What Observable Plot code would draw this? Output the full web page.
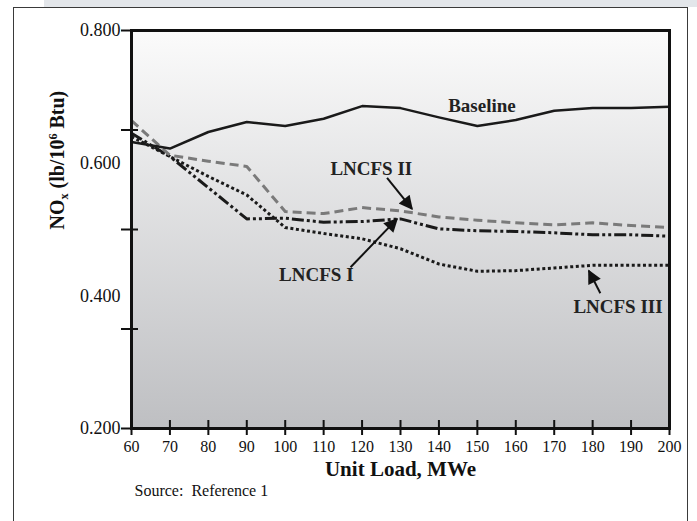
<!DOCTYPE html>
<html>
<head>
<meta charset="utf-8">
<script src="https://cdn.jsdelivr.net/npm/d3@7"></script>
<script src="https://cdn.jsdelivr.net/npm/@observablehq/plot@0.6"></script>
<style>
  html, body { margin: 0; padding: 0; background: #fff; }
  #wrap { position: relative; width: 697px; height: 521px; overflow: hidden; }
  #band { position: absolute; left: 44px; top: 0; width: 653px; height: 7px; background: #e3e6ea; }
  #box { position: absolute; left: 13px; top: 7px; width: 675px; height: 600px; border: 1px solid #3a3a3a; box-sizing: border-box; }
  #chart { position: absolute; left: 0; top: 0; }
</style>
</head>
<body>
<div id="wrap">
  <div id="band"></div>
  <div id="box"></div>
  <div id="chart"></div>
</div>
<script>
// Unit load, MWe
const loads = [60, 70, 80, 90, 100, 110, 120, 130, 140, 150, 160, 170, 180, 190, 200];
// NOx, lb/10^6 Btu
const baseline = [0.632, 0.622, 0.647, 0.662, 0.656, 0.667, 0.686, 0.683, 0.669, 0.656, 0.665, 0.679, 0.683, 0.683, 0.685];
const lncfs1   = [0.645, 0.610, 0.563, 0.516, 0.517, 0.511, 0.512, 0.516, 0.501, 0.498, 0.497, 0.495, 0.492, 0.492, 0.490];
const lncfs2   = [0.664, 0.612, 0.603, 0.595, 0.527, 0.524, 0.533, 0.528, 0.519, 0.514, 0.510, 0.507, 0.510, 0.506, 0.503];
const lncfs3   = [0.640, 0.610, 0.580, 0.552, 0.503, 0.494, 0.486, 0.471, 0.448, 0.437, 0.438, 0.442, 0.446, 0.446, 0.446];

const yLabelTicks = [0.2, 0.4, 0.6, 0.8];
const yMarkTicks = [0.2, 0.35, 0.5, 0.65, 0.8];

const annotLabels = ["Baseline", "LNCFS II", "LNCFS I", "LNCFS III"];
const annotX = [151.2, 122.4, 108.1, 186.6];
const annotY = [0.687, 0.592, 0.431, 0.384];

const arrowFromX = [126.5, 117.0, 182.0];
const arrowFromY = [0.578, 0.443, 0.404];
const arrowToX = [133.0, 129.1, 179.0];
const arrowToY = [0.531, 0.516, 0.438];

const yTitle = "NOx (lb/106 Btu)";
const xTitle = "Unit Load, MWe";
const source = "Source:\u00a0 Reference 1";

const rows = (vals) => loads.map((l, i) => ({load: l, nox: vals[i]}));
const annots = annotLabels.map((t, i) => ({text: t, x: annotX[i], y: annotY[i]}));
const arrows = arrowFromX.map((x, i) => ({x1: x, y1: arrowFromY[i], x2: arrowToX[i], y2: arrowToY[i]}));

const plot = Plot.plot({
  width: 697,
  height: 521,
  marginLeft: 131,
  marginRight: 28,
  marginTop: 30,
  marginBottom: 93,
  x: {domain: [60, 200]},
  y: {domain: [0.2, 0.8]},
  style: {background: "transparent", fontFamily: "'Liberation Serif', 'Times New Roman', serif", color: "#111"},
  marks: [
    Plot.frame({fill: "url(#bgGrad)"}),
    Plot.line(rows(lncfs3), {x: "load", y: "nox", stroke: "#1a1a1a", strokeWidth: 3, strokeDasharray: "3,2.6", strokeLinecap: "butt"}),
    Plot.line(rows(lncfs1), {x: "load", y: "nox", stroke: "#1a1a1a", strokeWidth: 3, strokeDasharray: "12,3,3,3,3,3", strokeLinecap: "butt"}),
    Plot.line(rows(lncfs2), {x: "load", y: "nox", stroke: "#7a7a7a", strokeWidth: 3, strokeDasharray: "9,5", strokeLinecap: "butt"}),
    Plot.line(rows(baseline), {x: "load", y: "nox", stroke: "#1a1a1a", strokeWidth: 2.5}),
    Plot.frame({stroke: "#111", strokeWidth: 3}),
    Plot.axisY(yMarkTicks, {tickSize: 17, dx: 7, tickFormat: () => "", strokeWidth: 2, label: null}),
    Plot.axisY(yLabelTicks, {tickSize: 0, tickPadding: 11, tickFormat: d3.format(".3f"), fontSize: 18, label: null}),
    Plot.axisX(loads, {tickSize: 15, dy: -8, tickFormat: () => "", strokeWidth: 2, label: null}),
    Plot.axisX(loads, {tickSize: 0, tickPadding: 12, fontSize: 16, label: null}),
    Plot.text([xTitle], {text: d => d, frameAnchor: "bottom", dy: 47, fontSize: 21, fontWeight: "bold"}),
    Plot.text([source], {text: d => d, frameAnchor: "bottom-left", dx: 3, dy: 67, textAnchor: "start", fontSize: 16}),
    Plot.text([yTitle], {text: d => d, frameAnchor: "left", dx: -74, rotate: -90, fontSize: 20, fontWeight: "bold"}),
    Plot.text(annots, {x: "x", y: "y", text: "text", fontSize: 19, fontWeight: "bold", fill: "#222"}),
    Plot.link(arrows, {x1: "x1", y1: "y1", x2: "x2", y2: "y2", stroke: "#111", strokeWidth: 2})
  ]
});

const svg = d3.select(plot);
const defs = svg.insert("defs", ":first-child");
const grad = defs.append("linearGradient").attr("id", "bgGrad").attr("x1", 0).attr("y1", 0).attr("x2", 0).attr("y2", 1);
grad.append("stop").attr("offset", "0%").attr("stop-color", "#fbfbfb");
grad.append("stop").attr("offset", "100%").attr("stop-color", "#bebfc2");
const mk = defs.append("marker").attr("id", "ahead").attr("viewBox", "0 0 10 10")
  .attr("refX", 9).attr("refY", 5).attr("markerUnits", "userSpaceOnUse")
  .attr("markerWidth", 17).attr("markerHeight", 14).attr("orient", "auto");
mk.append("path").attr("d", "M0,0L10,5L0,10Z").attr("fill", "#111");
svg.selectAll('g[aria-label="link"] path').attr("marker-end", "url(#ahead)");

// y title with subscript and superscript
svg.selectAll("text").filter(function() { return this.textContent === yTitle; }).each(function() {
  const t = d3.select(this);
  t.text(null);
  t.append("tspan").text("NO");
  t.append("tspan").attr("dy", 4).attr("font-size", 12).text("x");
  t.append("tspan").attr("dy", -4).text(" (lb/10");
  t.append("tspan").attr("dy", -7).attr("font-size", 12).text("6");
  t.append("tspan").attr("dy", 7).text(" Btu)");
});

document.getElementById("chart").appendChild(plot);
</script>
</body>
</html>
